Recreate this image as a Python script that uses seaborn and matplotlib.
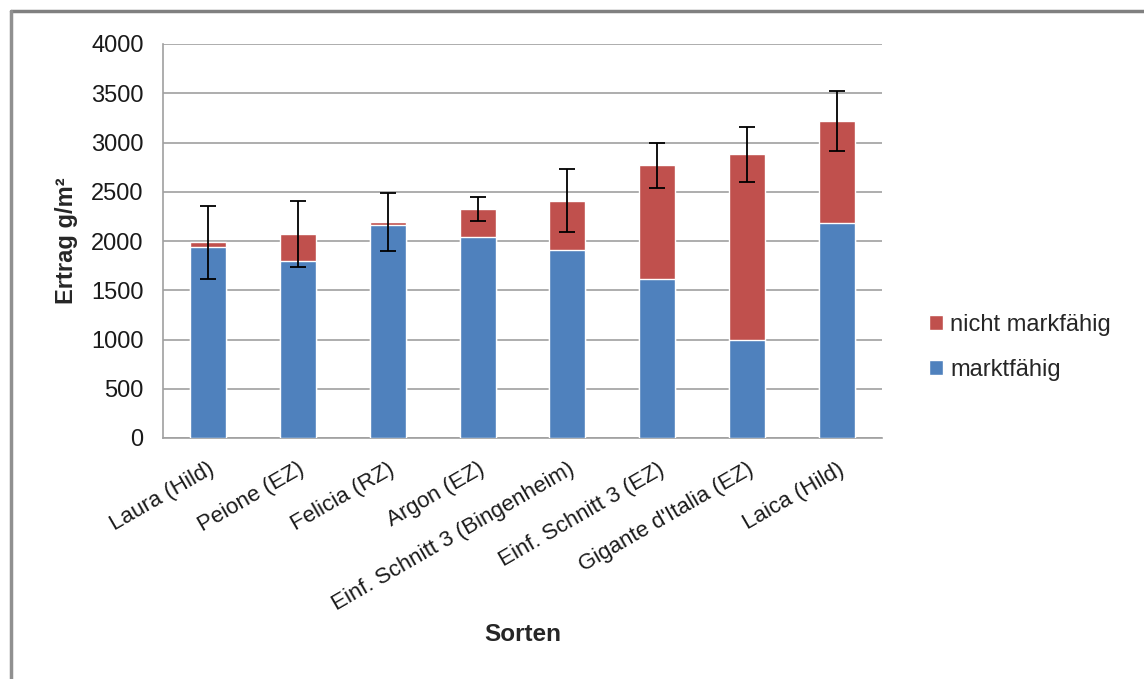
import matplotlib
matplotlib.use("Agg")
import matplotlib.pyplot as plt
import seaborn as sns
import numpy as np
from matplotlib.patches import Patch
from matplotlib.lines import Line2D

# Werte (g/m²)
sorten = ["Laura (Hild)", "Peione (EZ)", "Felicia (RZ)", "Argon (EZ)",
          "Einf. Schnitt 3 (Bingenheim)", "Einf. Schnitt 3 (EZ)",
          "Gigante d'Italia (EZ)", "Laica (Hild)"]
marktfaehig = [1940, 1800, 2165, 2045, 1905, 1615, 995, 2180]
nicht_marktfaehig = [45, 275, 30, 275, 505, 1155, 1885, 1035]
fehler = [375, 335, 295, 122, 320, 228, 280, 303]

gesamt = [m + n for m, n in zip(marktfaehig, nicht_marktfaehig)]

blau = "#4F81BD"
rot = "#C0504D"
grau = "#A0A0A0"

sns.set_style("white")
plt.rcParams['font.family'] = ['Liberation Sans', 'DejaVu Sans']

fig = plt.figure(figsize=(11.44, 6.79), dpi=100)
ax = fig.add_axes([163 / 1144, 1 - 438 / 679, 719 / 1144, 394 / 679])

# gestapelt: erst Gesamt (rot), dann marktfähig (blau) darüber
sns.barplot(x=sorten, y=gesamt, color=rot, width=0.4, saturation=1, ax=ax, zorder=2)
sns.barplot(x=sorten, y=marktfaehig, color=blau, width=0.4, saturation=1, ax=ax, zorder=3)
ax.errorbar(np.arange(len(sorten)), gesamt, yerr=fehler, fmt='none', ecolor='black',
            elinewidth=1.3, capsize=5.5, capthick=1.3, zorder=4)

ax.set_ylim(0, 4000)
ax.set_xlim(-0.5, len(sorten) - 0.5)
ax.set_yticks(np.arange(0, 4001, 500))
ax.yaxis.grid(True, color=grau, lw=1.2, zorder=0)
ax.set_axisbelow(True)

for s in ['top', 'right']:
    ax.spines[s].set_visible(False)
for s in ['left', 'bottom']:
    ax.spines[s].set_color(grau)
    ax.spines[s].set_linewidth(1.2)

ax.tick_params(axis='y', length=6, width=1.2, color=grau, pad=8, labelsize=17, labelcolor='#1a1a1a')
ax.tick_params(axis='x', which='major', length=0, pad=15)
ax.set_xticks(np.arange(-0.5, len(sorten)), minor=True)
ax.tick_params(axis='x', which='minor', length=6, width=1.2, color=grau)
ax.set_xticks(np.arange(len(sorten)))
ax.set_xticklabels(sorten, rotation=30, ha='right', va='top', rotation_mode='anchor',
                   fontsize=16, color='#1a1a1a')

ax.set_ylabel("Ertrag g/m²", fontsize=17, fontweight='bold')
ax.yaxis.set_label_coords(-0.118, 0.5)
ax.set_xlabel("Sorten", fontsize=17.5, fontweight='bold')
ax.xaxis.set_label_coords(0.5, -0.47)

handles = [Patch(facecolor=rot), Patch(facecolor=blau)]
fig.legend(handles, ["nicht markfähig", "marktfähig"], loc='center left',
           bbox_to_anchor=(929 / 1144, 1 - 347.5 / 679), frameon=False, fontsize=17,
           handlelength=0.6, handleheight=0.6, handletextpad=0.3, labelspacing=0.95,
           borderpad=0, borderaxespad=0)

# Rahmen oben und links wie im Original
fig.add_artist(Line2D([10.5 / 1144, 1], [1 - 10.5 / 679] * 2, transform=fig.transFigure,
                      color='#808080', lw=2.5))
fig.add_artist(Line2D([10.5 / 1144] * 2, [0, 1 - 10.5 / 679], transform=fig.transFigure,
                      color='#909090', lw=2.5))

fig.savefig("out.png", dpi=100)
